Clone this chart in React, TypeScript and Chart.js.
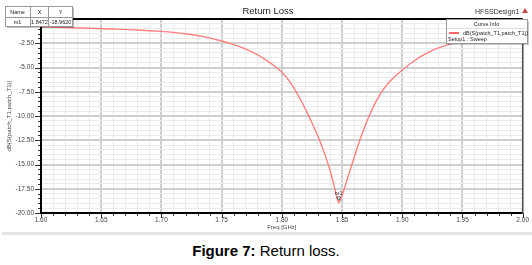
import React, { useEffect, useRef } from "react";
import { Chart, registerables } from "chart.js";

Chart.register(...registerables);

// ---- data ----
const freqGHz = [
  1.6, 1.62, 1.64, 1.66, 1.68, 1.7, 1.71, 1.72, 1.73, 1.74, 1.75, 1.76, 1.77, 1.78,
  1.79, 1.795, 1.8, 1.805, 1.81, 1.815, 1.82, 1.825, 1.83, 1.835, 1.84, 1.843, 1.8455,
  1.8472, 1.849, 1.851, 1.853, 1.855, 1.86, 1.865, 1.87, 1.875, 1.88, 1.885, 1.89,
  1.895, 1.9, 1.91, 1.92, 1.93, 1.94, 1.95, 1.96, 1.97, 1.98, 1.99, 2.0,
];
const dbS11 = [
  -0.82, -0.88, -0.95, -1.03, -1.13, -1.28, -1.38, -1.52, -1.7, -1.95, -2.27, -2.65,
  -3.1, -3.7, -4.5, -4.95, -5.5, -6.2, -7.1, -8.2, -9.4, -10.7, -12.1, -13.7, -15.6,
  -17.0, -18.3, -18.962, -18.55, -17.85, -17.05, -16.25, -14.3, -12.4, -10.75, -9.3,
  -8.1, -7.15, -6.4, -5.8, -5.25, -4.3, -3.55, -2.98, -2.58, -2.25, -1.98, -1.8,
  -1.65, -1.53, -1.43,
];
const xMajorTicks = [1.6, 1.65, 1.7, 1.75, 1.8, 1.85, 1.9, 1.95, 2.0];
const yMajorTicks = [-2.5, -5, -7.5, -10, -12.5, -15, -17.5, -20];
const markerName = "m1";
const markerX = 1.8472;
const markerY = -18.962;
const seriesName = "dB(S(patch_T1,patch_T1))";
const setupName = "Setup1 : Sweep";
const chartTitle = "Return Loss";
const designName = "HFSSDesign1";

const FONT = "Arial, 'Liberation Sans', sans-serif";

const near = (arr: number[], v: number) => arr.some((a) => Math.abs(a - v) < 1e-6);

const decorPlugin = {
  id: "hfssDecor",
  afterDraw(chart: any) {
    const { ctx, chartArea: a, scales } = chart;
    const xs = scales.x;
    const ys = scales.y;
    ctx.save();

    // axis tick marks (major + minor)
    ctx.strokeStyle = "#333";
    ctx.lineWidth = 1;
    ys.ticks.forEach((t: any) => {
      const py = Math.round(ys.getPixelForValue(t.value)) + 0.5;
      const len = near(yMajorTicks, t.value) ? 6 : 3;
      ctx.beginPath();
      ctx.moveTo(a.left - len, py);
      ctx.lineTo(a.left, py);
      ctx.stroke();
    });
    xs.ticks.forEach((t: any) => {
      const px = Math.round(xs.getPixelForValue(t.value)) + 0.5;
      const len = near(xMajorTicks, t.value) ? 5 : 3;
      ctx.beginPath();
      ctx.moveTo(px, a.bottom);
      ctx.lineTo(px, a.bottom + len);
      ctx.stroke();
    });

    // frame
    ctx.strokeStyle = "#000";
    ctx.lineWidth = 2;
    ctx.beginPath();
    ctx.moveTo(a.left, a.top);
    ctx.lineTo(a.right, a.top);
    ctx.moveTo(a.left, a.top);
    ctx.lineTo(a.left, a.bottom);
    ctx.lineTo(a.right, a.bottom);
    ctx.stroke();
    ctx.strokeStyle = "#555";
    ctx.lineWidth = 1.5;
    ctx.beginPath();
    ctx.moveTo(a.right, a.top);
    ctx.lineTo(a.right, a.bottom);
    ctx.stroke();

    // title
    ctx.fillStyle = "#222";
    ctx.textAlign = "center";
    ctx.textBaseline = "middle";
    ctx.font = `9.5px ${FONT}`;
    ctx.fillText(chartTitle, 268, 11);

    // design name + red triangle
    ctx.font = `7px ${FONT}`;
    ctx.textAlign = "left";
    ctx.fillStyle = "#333";
    ctx.fillText(designName, 475, 12);
    ctx.fillStyle = "#c04848";
    ctx.beginPath();
    ctx.moveTo(525, 8);
    ctx.lineTo(528, 13);
    ctx.lineTo(522, 13);
    ctx.closePath();
    ctx.fill();

    // marker on curve
    const mx = xs.getPixelForValue(markerX);
    const my = ys.getPixelForValue(markerY);
    ctx.strokeStyle = "#444";
    ctx.lineWidth = 0.8;
    ctx.beginPath();
    ctx.moveTo(mx - 2, my - 6);
    ctx.lineTo(mx + 2, my - 6);
    ctx.lineTo(mx, my - 2.5);
    ctx.closePath();
    ctx.stroke();
    ctx.fillStyle = "#333";
    ctx.font = `5.5px ${FONT}`;
    ctx.textAlign = "center";
    ctx.fillText(markerName, mx, my - 9.5);

    // marker table
    const tx = 5, ty = 6, tw = 67, th = 20;
    ctx.fillStyle = "rgba(0,0,0,0.25)";
    ctx.fillRect(tx + 2, ty + 2, tw, th);
    ctx.fillStyle = "#fff";
    ctx.fillRect(tx, ty, tw, th);
    ctx.strokeStyle = "#999";
    ctx.lineWidth = 1;
    ctx.strokeRect(tx + 0.5, ty + 0.5, tw, th);
    ctx.beginPath();
    ctx.moveTo(tx, ty + 11.5);
    ctx.lineTo(tx + tw, ty + 11.5);
    ctx.moveTo(30.5, ty);
    ctx.lineTo(30.5, ty + th);
    ctx.moveTo(48.5, ty);
    ctx.lineTo(48.5, ty + th);
    ctx.stroke();
    ctx.fillStyle = "#222";
    ctx.font = `5.5px ${FONT}`;
    ctx.textAlign = "center";
    ctx.fillText("Name", 17.5, ty + 6.5);
    ctx.fillText("X", 39.5, ty + 6.5);
    ctx.fillText("Y", 60.5, ty + 6.5);
    ctx.fillText(markerName, 17.5, ty + 16.5);
    ctx.fillText(markerX.toFixed(4), 39.5, ty + 16.5);
    ctx.fillText(markerY.toFixed(4), 60.5, ty + 16.5);

    // curve info legend
    const lx = 446, ly = 19, lw = 81, lh = 24;
    ctx.fillStyle = "rgba(0,0,0,0.2)";
    ctx.fillRect(lx + 2, ly + 2, lw, lh);
    ctx.fillStyle = "#fff";
    ctx.fillRect(lx, ly, lw, lh);
    ctx.strokeStyle = "#999";
    ctx.strokeRect(lx + 0.5, ly + 0.5, lw, lh);
    ctx.strokeStyle = "#ddd";
    ctx.beginPath();
    ctx.moveTo(lx + 1, ly + 9.5);
    ctx.lineTo(lx + lw - 1, ly + 9.5);
    ctx.stroke();
    ctx.fillStyle = "#222";
    ctx.font = `5.5px ${FONT}`;
    ctx.textAlign = "center";
    ctx.fillText("Curve Info", lx + lw / 2, ly + 5);
    ctx.strokeStyle = "#ff6666";
    ctx.lineWidth = 2;
    ctx.beginPath();
    ctx.moveTo(449, 33);
    ctx.lineTo(459, 33);
    ctx.stroke();
    ctx.textAlign = "left";
    ctx.fillText(seriesName, 463, 33);
    ctx.fillText(setupName, 448, 39.5);

    // bottom band of the screenshot
    ctx.fillStyle = "#e4e4e4";
    ctx.fillRect(2, 232, 530, 3);

    ctx.restore();
  },
};

export default function App() {
  const canvasRef = useRef<HTMLCanvasElement | null>(null);

  useEffect(() => {
    document.body.style.margin = "0";
    const canvas = canvasRef.current;
    if (!canvas) return;
    const chart = new Chart(canvas, {
      type: "line",
      data: {
        datasets: [
          {
            label: seriesName,
            data: freqGHz.map((f, i) => ({ x: f, y: dbS11[i] })),
            borderColor: "#ff8080",
            borderWidth: 1.4,
            pointRadius: 0,
            fill: false,
            cubicInterpolationMode: "monotone",
          },
        ],
      },
      options: {
        animation: false,
        responsive: false,
        devicePixelRatio: 1,
        layout: { padding: { top: 19, right: 9, left: 0, bottom: 0 } },
        plugins: {
          legend: { display: false },
          title: { display: false },
          tooltip: { enabled: false },
        },
        scales: {
          x: {
            type: "linear",
            min: 1.6,
            max: 2.0,
            afterFit: (s: any) => {
              s.height = 23;
            },
            ticks: {
              stepSize: 0.01,
              autoSkip: false,
              maxRotation: 0,
              minRotation: 0,
              padding: 3,
              color: "#444",
              font: { family: FONT, size: 6.5 },
              callback: (v: any) => (near(xMajorTicks, Number(v)) ? Number(v).toFixed(2) : ""),
            },
            grid: {
              drawTicks: false,
              color: (c: any) => (near(xMajorTicks, c.tick.value) ? "#cfcfcf" : "#ebebeb"),
              lineWidth: (c: any) => (near(xMajorTicks, c.tick.value) ? 2 : 1),
            },
            border: { display: false },
            title: {
              display: true,
              text: "Freq [GHz]",
              color: "#444",
              font: { family: FONT, size: 6 },
              padding: { top: 0, bottom: 5 },
            },
          },
          y: {
            type: "linear",
            min: -20,
            max: 0,
            afterFit: (s: any) => {
              s.width = 41;
            },
            ticks: {
              stepSize: 0.5,
              autoSkip: false,
              padding: 7,
              color: "#444",
              font: { family: FONT, size: 6.5 },
              callback: (v: any) => (near(yMajorTicks, Number(v)) ? Number(v).toFixed(2) : ""),
            },
            grid: {
              drawTicks: false,
              color: (c: any) => (near(yMajorTicks, c.tick.value) ? "#cfcfcf" : "#ebebeb"),
              lineWidth: (c: any) => (near(yMajorTicks, c.tick.value) ? 2 : 1),
            },
            border: { display: false },
            title: {
              display: true,
              text: seriesName,
              color: "#444",
              font: { family: FONT, size: 6 },
              padding: { top: 6, bottom: 0 },
            },
          },
        },
      },
      plugins: [decorPlugin],
    } as any);
    return () => chart.destroy();
  }, []);

  return (
    <div style={{ position: "relative", width: 532, height: 265, background: "#fff" }}>
      <canvas ref={canvasRef} width={532} height={236} style={{ display: "block" }} />
      <div
        style={{
          position: "absolute",
          top: 242,
          left: 0,
          width: 532,
          textAlign: "center",
          fontFamily: FONT,
          fontSize: 15,
          color: "#000",
          whiteSpace: "nowrap",
        }}
      >
        <b>Figure 7:</b> Return loss.
      </div>
    </div>
  );
}
